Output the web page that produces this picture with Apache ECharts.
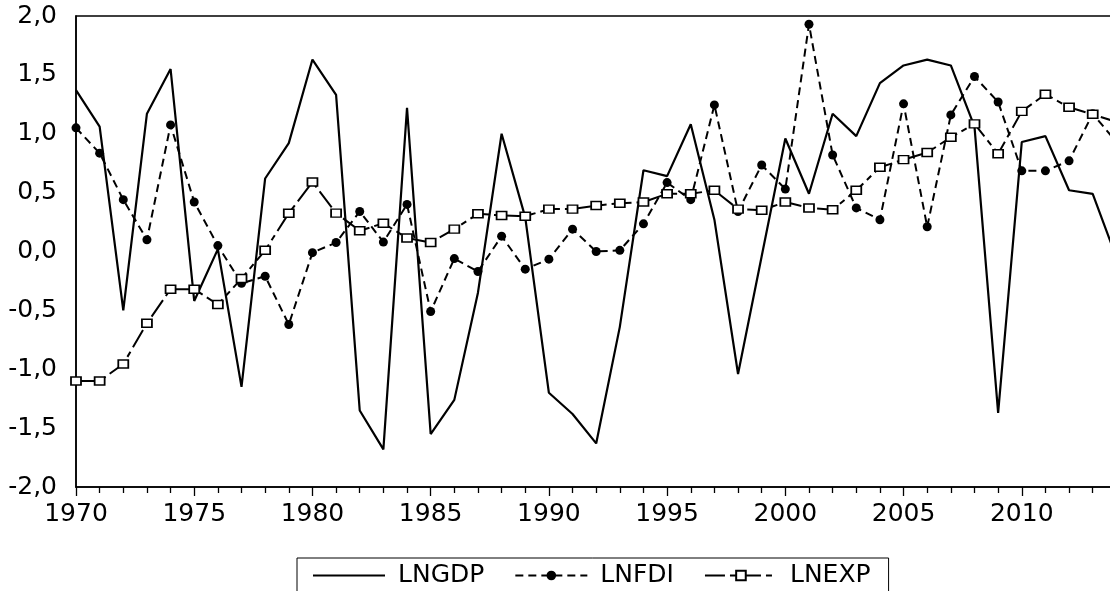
<!DOCTYPE html>
<html>
<head>
<meta charset="utf-8">
<script src="https://cdn.jsdelivr.net/npm/echarts@6/dist/echarts.min.js"></script>
<style>
html,body{margin:0;padding:0;background:#fff;}
#chart{width:1110px;height:591px;}
</style>
</head>
<body>
<div id="chart"></div>
<script>
const years = [];
for (let y = 1970; y <= 2014; y++) years.push(y);

const lngdp = [1.37, 1.06, -0.50, 1.17, 1.55, -0.42, 0.02, -1.15, 0.62, 0.92,
  1.63, 1.33, -1.35, -1.68, 1.22, -1.55, -1.26, -0.35, 1.00, 0.29,
  -1.20, -1.38, -1.63, -0.64, 0.69, 0.64, 1.08, 0.27, -1.04, -0.04,
  0.96, 0.49, 1.17, 0.98, 1.43, 1.58, 1.63, 1.58, 1.06, -1.37,
  0.93, 0.98, 0.52, 0.49, -0.05];

const lnfdi = [1.05, 0.835, 0.44, 0.10, 1.075, 0.42, 0.05, -0.27, -0.21, -0.62,
  -0.01, 0.076, 0.34, 0.08, 0.40, -0.51, -0.06, -0.17, 0.13, -0.15,
  -0.065, 0.19, 0.0, 0.01, 0.235, 0.585, 0.44, 1.245, 0.34, 0.735,
  0.53, 1.93, 0.82, 0.37, 0.27, 1.254, 0.21, 1.16, 1.486, 1.27,
  0.685, 0.685, 0.77, 1.17, 0.93];

const lnexp = [-1.10, -1.10, -0.955, -0.61, -0.32, -0.32, -0.45, -0.23, 0.01, 0.325,
  0.59, 0.326, 0.176, 0.24, 0.114, 0.076, 0.19, 0.32, 0.306, 0.30,
  0.36, 0.36, 0.39, 0.41, 0.42, 0.49, 0.49, 0.52, 0.36, 0.35,
  0.42, 0.37, 0.355, 0.52, 0.715, 0.78, 0.84, 0.97, 1.084, 0.83,
  1.19, 1.335, 1.225, 1.165, 1.10];

const seriesNames = ['LNGDP', 'LNFDI', 'LNEXP'];
const pairs = arr => arr.map((v, i) => [years[i], v]);

const FONT = 'DejaVu Sans';
const chart = echarts.init(document.getElementById('chart'), null, {renderer: 'canvas'});

const option = {
  backgroundColor: '#fff',
  animation: false,
  grid: {
    left: 76, right: -30, top: 16, bottom: 104,
    outerBoundsMode: 'none',
    show: true, borderColor: '#000', borderWidth: 1.5, backgroundColor: 'transparent'
  },
  legend: {
    data: [
      {name: 'LNGDP', icon: 'path://M0,0 L72,0 L72,2.2 L0,2.2 Z', itemStyle: {color: '#000'}},
      {name: 'LNFDI'},
      {name: 'LNEXP'}
    ],
    left: 297, top: 558,
    orient: 'horizontal',
    borderColor: '#000', borderWidth: 1,
    padding: [5, 18, 30, 16],
    itemWidth: 72, itemHeight: 12, itemGap: 30,
    textStyle: {fontFamily: FONT, fontSize: 25, color: '#000', padding: [0, 0, 0, 8]}
  },
  xAxis: {
    type: 'value', min: 1970, max: 2015, interval: 5,
    axisLine: {show: true, onZero: false, lineStyle: {color: '#000', width: 1.5}},
    axisTick: {show: true, length: 9, inside: false, lineStyle: {color: '#000', width: 1.3}},
    minorTick: {show: true, splitNumber: 5, length: 6, lineStyle: {color: '#000', width: 1.3}},
    axisLabel: {show: true, margin: 15, showMaxLabel: false, fontFamily: FONT, fontSize: 25, color: '#000',
      formatter: v => String(v)},
    splitLine: {show: false},
    minorSplitLine: {show: false}
  },
  yAxis: {
    type: 'value', min: -2, max: 2, interval: 0.5,
    axisLine: {show: true, onZero: false, lineStyle: {color: '#000', width: 1.5}},
    axisTick: {show: false},
    splitLine: {show: false},
    axisLabel: {
      margin: 19, fontFamily: FONT, fontSize: 25, color: '#000',
      formatter: v => v.toFixed(1).replace('.', ',')
    }
  },
  series: [
    {
      name: 'LNGDP', type: 'line', data: pairs(lngdp),
      symbol: 'none', showSymbol: false,
      lineStyle: {color: '#000', width: 2.2, type: 'solid'},
      itemStyle: {color: '#000'}
    },
    {
      name: 'LNFDI', type: 'line', data: pairs(lnfdi),
      symbol: 'circle', symbolSize: 9, showSymbol: true,
      lineStyle: {color: '#000', width: 2, type: [8, 5]},
      itemStyle: {color: '#000', borderColor: '#000', borderWidth: 0}
    },
    {
      name: 'LNEXP', type: 'line', data: pairs(lnexp),
      symbol: 'rect', symbolSize: [10, 8], showSymbol: true,
      lineStyle: {color: '#000', width: 2, type: [20, 5, 6, 5]},
      itemStyle: {color: '#fff', borderColor: '#000', borderWidth: 1.6}
    }
  ]
};
chart.setOption(option);
</script>
</body>
</html>
